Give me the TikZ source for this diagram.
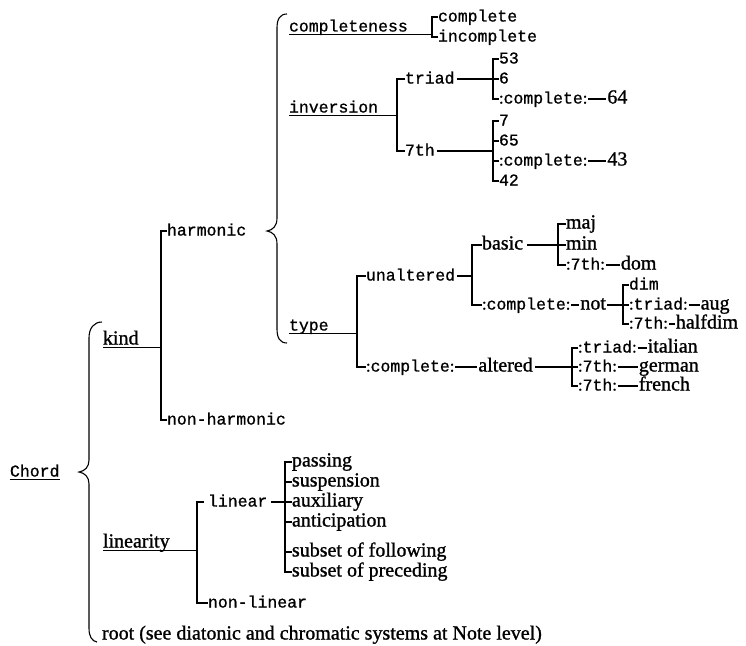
\documentclass[tikz,border=0pt]{standalone}
\usepackage{fontspec}
\setmainfont{Liberation Serif}
\newfontfamily\twf[FakeBold=0.9]{Liberation Mono}
\newfontfamily\prf[FakeBold=1.1]{Liberation Serif}
\newcommand\cn{{\prf:}}
\newcommand\midsh{4.5pt}
\newcommand\Lm[1]{([yshift=\midsh]#1.base west)}
\newcommand\Rm[1]{([yshift=\midsh]#1.base east)}
\begin{document}
\begin{tikzpicture}[x=1pt,y=-1pt,
  tw/.style={inner sep=0pt,outer sep=0pt,anchor=base west,font=\twf\fontsize{16.5}{18}\selectfont},
  pr/.style={inner sep=0pt,outer sep=0pt,anchor=base west,font=\prf\fontsize{20}{22}\selectfont},
  ln/.style={line width=1.1pt},
  ul/.style={line width=1pt},
  link/.style={line width=1.1pt,shorten <=1pt,shorten >=1pt},
  brace/.style={line width=1.1pt}]
\fill[white] (0,0) rectangle (746,645);
\useasboundingbox (0,0) rectangle (746,645);

% ---------- harmonic subtree: completeness / inversion ----------
\node[tw] (completeness) at (289,31.5) {completeness};
\node[tw] (complete) at (438,21.5) {complete};
\node[tw] (incomplete) at (438,41.5) {incomplete};
\node[tw] (inversion) at (289,112.5) {inversion};
\node[tw] (triad) at (405,83.5) {triad};
\node[tw] (seventh) at (405,155.5) {7th};
\node[tw] (n53) at (499,63.5) {53};
\node[tw] (n6) at (499,83.5) {6};
\node[tw] (cmpT) at (499,103.5) {\cn complete\cn};
\node[pr] (n64) at ([xshift=20pt]cmpT.base east) {64};
\node[tw] (n7) at (499,125.5) {7};
\node[tw] (n65) at (499,145.5) {65};
\node[tw] (cmpS) at (499,165.5) {\cn complete\cn};
\node[pr] (n43) at ([xshift=20pt]cmpS.base east) {43};
\node[tw] (n42) at (499,185.5) {42};

% ---------- kind ----------
\node[tw] (harmonic) at (167,235.5) {harmonic};
\node[pr] (kind) at (103,344.5) {kind};
\node[tw] (nonharm) at (167,424.5) {non-harmonic};

% ---------- type ----------
\node[tw] (type) at (289,330.5) {type};
\node[tw] (unaltered) at (366,280.5) {unaltered};
\node[tw] (cmpA) at (366,371.5) {\cn complete\cn};
\node[pr] (altered) at ([xshift=24pt]cmpA.base east) {altered};
\node[pr] (basic) at (482,249.5) {basic};
\node[tw] (cmpB) at (482,309.5) {\cn complete\cn};
\node[pr] (not) at ([xshift=10pt]cmpB.base east) {not};
\node[pr] (maj) at (566,228.5) {maj};
\node[pr] (min) at (566,249.5) {min};
\node[tw] (s7a) at (566,269.5) {\cn 7th\cn};
\node[pr] (dom) at ([xshift=16pt]s7a.base east) {dom};
\node[tw] (dim) at (629,289.5) {dim};
\node[tw] (tri1) at (629,309.5) {\cn triad\cn};
\node[pr] (aug) at ([xshift=13pt]tri1.base east) {aug};
\node[tw] (s7b) at (629,328.5) {\cn 7th\cn};
\node[pr] (halfdim) at ([xshift=8pt]s7b.base east) {halfdim};
\node[tw] (tri2) at (578,352.5) {\cn triad\cn};
\node[pr] (italian) at ([xshift=11pt]tri2.base east) {italian};
\node[tw] (s7c) at (578,371.5) {\cn 7th\cn};
\node[pr] (german) at ([xshift=22pt]s7c.base east) {german};
\node[tw] (s7d) at (578,390.5) {\cn 7th\cn};
\node[pr] (french) at ([xshift=22pt]s7d.base east) {french};

% ---------- Chord / linearity ----------
\node[tw] (chord) at (10,476.5) {Chord};
\node[pr] (linearity) at (103,547.5) {linearity};
\node[tw] (linear) at (208,506.5) {linear};
\node[tw] (nonlin) at (208,607.5) {non-linear};
\node[pr] (passing) at (292,466.5) {passing};
\node[pr] (suspension) at (292,486.5) {suspension};
\node[pr] (auxiliary) at (292,506.5) {auxiliary};
\node[pr] (anticipation) at (292,526.5) {anticipation};
\node[pr] (sof) at (292,556.5) {subset of following};
\node[pr] (sop) at (292,576.5) {subset of preceding};
\node[pr] (root) at (102,639.5) {root (see diatonic and chromatic systems at Note level)};

% ---------- braces ----------
\draw[brace] (287,14) .. controls (280,14) and (277,19) .. (277,28) -- (277,218)
  .. controls (277,226) and (273,230) .. (267,231)
  .. controls (273,232) and (277,236) .. (277,244) -- (277,329)
  .. controls (277,338) and (280,343) .. (287,343);
\draw[brace] (102,322) .. controls (94,322) and (89,328) .. (89,338) -- (89,460)
  .. controls (89,467) and (85,471) .. (79,472)
  .. controls (85,473) and (89,477) .. (89,484) -- (89,628)
  .. controls (89,637) and (92,641) .. (97,642);

% ---------- connectors ----------
% completeness
\coordinate (vA) at ([xshift=-6pt,yshift=\midsh]complete.base west);
\draw[ln] \Lm{complete} -- (vA) |- \Lm{incomplete};
\coordinate (uA) at ([yshift=-2.5pt]completeness.base west);
\draw[ul] (uA) -- (uA -| vA);
% inversion
\coordinate (vB) at ([xshift=-8pt,yshift=\midsh]triad.base west);
\draw[ln] \Lm{triad} -- (vB) |- \Lm{seventh};
\coordinate (uB) at ([yshift=-2.5pt]inversion.base west);
\draw[ul] (uB) -- (uB -| vB);
% triad children
\coordinate (vC) at ([xshift=-6pt,yshift=\midsh]n53.base west);
\draw[ln] \Lm{n53} -- (vC) |- \Lm{cmpT};
\draw[ln] \Lm{n6} -- ++(-6,0);
\coordinate (pC) at ([xshift=2pt,yshift=\midsh]triad.base east);
\draw[ln] (pC) -- (pC -| vC);
\draw[link] \Rm{cmpT} -- \Lm{n64};
% 7th children
\coordinate (vD) at ([xshift=-6pt,yshift=\midsh]n7.base west);
\draw[ln] \Lm{n7} -- (vD) |- \Lm{n42};
\draw[ln] \Lm{n65} -- ++(-6,0);
\draw[ln] \Lm{cmpS} -- ++(-6,0);
\coordinate (pD) at ([xshift=2pt,yshift=\midsh]seventh.base east);
\draw[ln] (pD) -- (pD -| vD);
\draw[link] \Rm{cmpS} -- \Lm{n43};
% kind
\coordinate (vE) at ([xshift=-6pt,yshift=\midsh]harmonic.base west);
\draw[ln] \Lm{harmonic} -- (vE) |- \Lm{nonharm};
\coordinate (uE) at ([yshift=-2.5pt]kind.base west);
\draw[ul] (uE) -- (uE -| vE);
% type
\coordinate (vF) at ([xshift=-9pt,yshift=\midsh]unaltered.base west);
\draw[ln] \Lm{unaltered} -- (vF) |- \Lm{cmpA};
\coordinate (uF) at ([yshift=-2.5pt]type.base west);
\draw[ul] (uF) -- (uF -| vF);
\coordinate (vG) at ([xshift=-10pt,yshift=\midsh]basic.base west);
\draw[ln] \Lm{basic} -- (vG) |- \Lm{cmpB};
\coordinate (pG) at ([xshift=2pt,yshift=\midsh]unaltered.base east);
\draw[ln] (pG) -- (pG -| vG);
\coordinate (vH) at ([xshift=-8pt,yshift=\midsh]maj.base west);
\draw[ln] \Lm{maj} -- (vH) |- \Lm{s7a};
\draw[ln] \Lm{min} -- ++(-8,0);
\coordinate (pH) at ([xshift=4pt,yshift=\midsh]basic.base east);
\draw[ln] (pH) -- (pH -| vH);
\draw[link] \Rm{s7a} -- \Lm{dom};
\draw[link] \Rm{cmpB} -- \Lm{not};
\coordinate (vI) at ([xshift=-6pt,yshift=\midsh]dim.base west);
\draw[ln] \Lm{dim} -- (vI) |- \Lm{s7b};
\draw[ln] \Lm{tri1} -- ++(-6,0);
\coordinate (pI) at ([xshift=1pt,yshift=\midsh]not.base east);
\draw[ln] (pI) -- (pI -| vI);
\draw[link] \Rm{tri1} -- \Lm{aug};
\draw[link] \Rm{s7b} -- \Lm{halfdim};
\draw[link] \Rm{cmpA} -- \Lm{altered};
\coordinate (vJ) at ([xshift=-6pt,yshift=\midsh]tri2.base west);
\draw[ln] \Lm{tri2} -- (vJ) |- \Lm{s7d};
\draw[ln] \Lm{s7c} -- ++(-6,0);
\coordinate (pJ) at ([xshift=2pt,yshift=\midsh]altered.base east);
\draw[ln] (pJ) -- (pJ -| vJ);
\draw[link] \Rm{tri2} -- \Lm{italian};
\draw[link] \Rm{s7c} -- \Lm{german};
\draw[link] \Rm{s7d} -- \Lm{french};
% Chord
\draw[ul] ([yshift=-2.5pt]chord.base west) -- ([yshift=-2.5pt]chord.base east);
% linearity
\coordinate (vK) at ([xshift=-11pt,yshift=\midsh]linear.base west);
\coordinate (lk1) at ([xshift=-4pt,yshift=\midsh]linear.base west);
\draw[ln] (lk1) -- (vK) |- \Lm{nonlin};
\coordinate (uK) at ([yshift=-2.5pt]linearity.base west);
\draw[ul] (uK) -- (uK -| vK);
\coordinate (vL) at ([xshift=-7pt,yshift=\midsh]passing.base west);
\draw[ln] \Lm{passing} -- (vL) |- \Lm{sop};
\draw[ln] \Lm{suspension} -- ++(-7,0);
\draw[ln] \Lm{auxiliary} -- ++(-7,0);
\draw[ln] \Lm{anticipation} -- ++(-7,0);
\draw[ln] \Lm{sof} -- ++(-7,0);
\coordinate (pL) at ([xshift=4pt,yshift=\midsh]linear.base east);
\draw[ln] (pL) -- (pL -| vL);
\end{tikzpicture}
\end{document}
